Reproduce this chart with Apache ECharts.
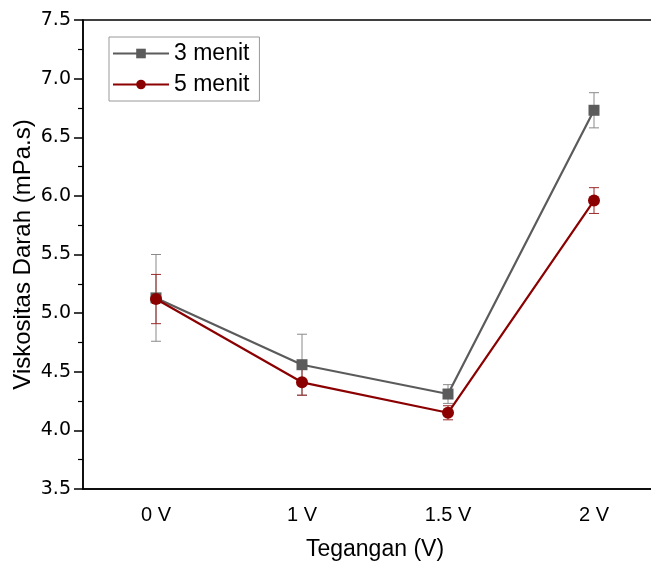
<!DOCTYPE html>
<html><head><meta charset="utf-8">
<script src="https://cdn.jsdelivr.net/npm/echarts@6/dist/echarts.min.js"></script>
<style>html,body{margin:0;padding:0;background:#fff}#c{width:651px;height:562px}</style>
</head><body><div id="c"></div>
<script>
const categories = ['0 V', '1 V', '1.5 V', '2 V'];
const yTicks = [3.5, 4.0, 4.5, 5.0, 5.5, 6.0, 6.5, 7.0, 7.5];
const min3 = [5.13, 4.56, 4.31, 6.73];
const err3 = [0.37, 0.26, 0.08, 0.15];
const min5 = [5.12, 4.41, 4.15, 5.96];
const err5 = [0.21, 0.11, 0.06, 0.11];
const seriesNames = ['3 menit', '5 menit'];

const FONT = 'Liberation Sans, Arial, sans-serif';
const FONT_TICK = 'DejaVu Sans, sans-serif';
const C3 = '#5b5b5b', C5 = '#8b0000';

function errData(vals, errs) {
  return vals.map((v, i) => [i, v - errs[i], v + errs[i]]);
}
function errRender(color) {
  return function (params, api) {
    const lo = api.coord([api.value(0), api.value(1)]);
    const hi = api.coord([api.value(0), api.value(2)]);
    const w = 5;
    const st = { stroke: color, lineWidth: 1 };
    return { type: 'group', children: [
      { type: 'line', shape: { x1: lo[0], y1: lo[1], x2: hi[0], y2: hi[1] }, style: st },
      { type: 'line', shape: { x1: lo[0] - w, y1: lo[1], x2: lo[0] + w, y2: lo[1] }, style: st },
      { type: 'line', shape: { x1: hi[0] - w, y1: hi[1], x2: hi[0] + w, y2: hi[1] }, style: st }
    ]};
  };
}

const chart = echarts.init(document.getElementById('c'), null, { renderer: 'canvas' });
chart.setOption({
  animation: false,
  textStyle: { fontFamily: FONT },
  grid: { left: 83, top: 20, width: 584, height: 469, containLabel: false, outerBoundsMode: 'none',
    show: true, borderColor: '#000', borderWidth: 1.5 },
  legend: {
    orient: 'vertical', left: 109, top: 37,
    data: seriesNames,
    borderColor: '#999', borderWidth: 1, padding: [5, 10, 5, 3],
    itemWidth: 56, itemHeight: 12, itemGap: 8,
    textStyle: { fontSize: 23, color: '#000', fontFamily: FONT }
  },
  xAxis: [{
    type: 'category', data: categories, position: 'bottom',
    name: 'Tegangan (V)', nameLocation: 'middle', nameGap: 49, nameMoveOverlap: false,
    nameTextStyle: { fontSize: 23, color: '#000', fontFamily: FONT },
    axisLine: { lineStyle: { color: '#000', width: 1.5 } },
    axisTick: { alignWithLabel: true, inside: false, length: 8, lineStyle: { color: '#000', width: 1.5 } },
    axisLabel: { fontSize: 20, color: '#000', margin: 16, fontFamily: FONT },
    splitLine: { show: false }
  }, {
    type: 'category', data: categories, position: 'bottom',
    axisLine: { show: false },
    axisTick: { alignWithLabel: false, inside: false, length: 5, lineStyle: { color: '#000', width: 1.2 } },
    axisLabel: { show: false }, splitLine: { show: false }
  }],
  yAxis: {
    type: 'value', min: 3.5, max: 7.5, interval: 0.5,
    name: 'Viskositas Darah (mPa.s)', nameLocation: 'middle', nameGap: 48, nameMoveOverlap: false,
    nameTextStyle: { fontSize: 24, color: '#000', fontFamily: FONT },
    axisLine: { show: true, lineStyle: { color: '#000', width: 1.5 } },
    axisTick: { show: true, inside: false, length: 9, lineStyle: { color: '#000', width: 1.5 } },
    minorTick: { show: true, splitNumber: 2, length: 5, lineStyle: { color: '#000', width: 1.2 } },
    axisLabel: { fontSize: 19, color: '#000', margin: 12, fontFamily: FONT_TICK,
      formatter: v => yTicks.includes(v) ? v.toFixed(1) : '' },
    splitLine: { show: false }
  },
  series: [
    { type: 'custom', name: 'err3', xAxisIndex: 0, renderItem: errRender('#8a8a8a'), data: errData(min3, err3), z: 1, silent: true },
    { type: 'custom', name: 'err5', xAxisIndex: 0, renderItem: errRender('#9b2a2a'), data: errData(min5, err5), z: 1, silent: true },
    { type: 'line', name: seriesNames[0], data: min3, symbol: 'rect', symbolSize: 11,
      itemStyle: { color: C3 }, lineStyle: { color: C3, width: 2.2 }, z: 3 },
    { type: 'line', name: seriesNames[1], data: min5, symbol: 'circle', symbolSize: 12,
      itemStyle: { color: C5 }, lineStyle: { color: C5, width: 2.2 }, z: 4 }
  ]
});
</script></body></html>
